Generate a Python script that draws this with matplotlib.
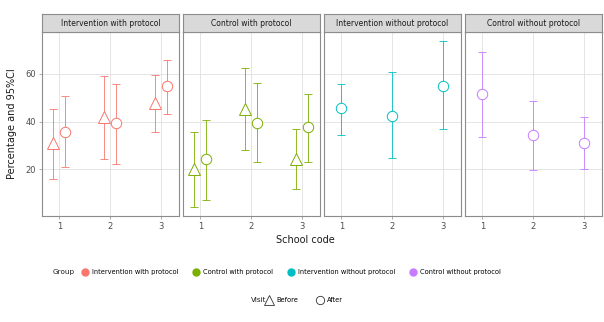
import matplotlib
matplotlib.use("Agg")
import matplotlib.pyplot as plt
from matplotlib.lines import Line2D
import numpy as np

groups = ["Intervention with protocol", "Control with protocol",
          "Intervention without protocol", "Control without protocol"]
colors = ["#F8766D", "#7CAE00", "#00BFC4", "#C77CFF"]
schools = [1, 2, 3]

# Before visit (only groups with protocol)
before_est = {groups[0]: [30.9, 41.8, 47.7], groups[1]: [20.0, 45.2, 24.2]}
before_lo = {groups[0]: [16.0, 24.5, 35.8], groups[1]: [4.3, 28.1, 11.6]}
before_hi = {groups[0]: [45.3, 59.2, 59.6], groups[1]: [35.5, 62.4, 36.9]}

# After visit
after_est = {groups[0]: [35.8, 39.3, 55.1], groups[1]: [24.2, 39.6, 37.9],
             groups[2]: [45.6, 42.5, 55.1], groups[3]: [51.5, 34.4, 31.2]}
after_lo = {groups[0]: [20.8, 22.1, 43.1], groups[1]: [7.1, 22.9, 23.2],
            groups[2]: [34.4, 24.6, 36.8], groups[3]: [33.7, 19.7, 20.0]}
after_hi = {groups[0]: [50.9, 55.8, 65.9], groups[1]: [40.7, 56.1, 51.5],
            groups[2]: [55.8, 60.7, 73.6], groups[3]: [69.1, 48.7, 42.1]}

W, H = 604, 322
fig = plt.figure(figsize=(W / 100, H / 100), dpi=100)
fig.patch.set_facecolor("white")

panel_left = [42, 183, 324, 465]
panel_w = 137
p_top, p_bot, s_top = 32, 216, 14

dodge = 0.12
cap = 0.08

def fx(px):
    return px / W

def fy(py):
    return 1 - py / H

axes = []
for i, g in enumerate(groups):
    ax = fig.add_axes([fx(panel_left[i]), fy(p_bot), panel_w / W, (p_bot - p_top) / H])
    axes.append(ax)
    col = colors[i]
    x = np.array(schools, dtype=float)
    if g in before_est:
        xb = x - dodge
        xa = x + dodge
        est, lo, hi = map(np.array, (before_est[g], before_lo[g], before_hi[g]))
        ax.errorbar(xb, est, yerr=[est - lo, hi - est], fmt="none", ecolor=col,
                    elinewidth=0.6, capsize=0, zorder=2)
        ax.hlines(np.concatenate([lo, hi]), np.concatenate([xb, xb]) - cap,
                  np.concatenate([xb, xb]) + cap, colors=col, lw=0.6, zorder=2)
        ax.plot(xb, est, linestyle="none", marker="^", markersize=8.5,
                markerfacecolor="white", markeredgecolor=col, markeredgewidth=0.7, zorder=3)
    else:
        xa = x
    est, lo, hi = map(np.array, (after_est[g], after_lo[g], after_hi[g]))
    ax.errorbar(xa, est, yerr=[est - lo, hi - est], fmt="none", ecolor=col,
                elinewidth=0.6, capsize=0, zorder=2)
    ax.hlines(np.concatenate([lo, hi]), np.concatenate([xa, xa]) - cap,
              np.concatenate([xa, xa]) + cap, colors=col, lw=0.6, zorder=2)
    ax.plot(xa, est, linestyle="none", marker="o", markersize=7.5,
            markerfacecolor="white", markeredgecolor=col, markeredgewidth=0.7, zorder=3)

    ax.set_xlim(0.66, 3.36)
    ax.set_ylim(0.5, 77.5)
    ax.set_xticks(schools)
    ax.set_xticklabels([str(s) for s in schools])
    ax.set_yticks([20, 40, 60])
    ax.grid(True, color="#E0E0E0", lw=0.6, zorder=0)
    ax.set_axisbelow(True)
    for sp in ax.spines.values():
        sp.set_color("#8C8C8C")
        sp.set_linewidth(0.8)
    ax.tick_params(axis="both", labelsize=6, colors="#8C8C8C", labelcolor="#4D4D4D",
                   length=2.5, width=0.5, pad=2)
    if i > 0:
        ax.tick_params(axis="y", left=False, labelleft=False)

    # strip
    sax = fig.add_axes([fx(panel_left[i]), fy(p_top), panel_w / W, (p_top - s_top) / H])
    sax.set_facecolor("#D9D9D9")
    sax.set_xticks([])
    sax.set_yticks([])
    for sp in sax.spines.values():
        sp.set_color("#8C8C8C")
        sp.set_linewidth(0.8)
    sax.text(0.5, 0.5, g, ha="center", va="center", fontsize=5.5, color="#1A1A1A",
             transform=sax.transAxes)

fig.text(fx(12), fy((p_top + p_bot) / 2), "Percentage and 95%CI", rotation=90,
         ha="center", va="center", fontsize=7, color="#1A1A1A")
fig.text(fx(305), fy(240), "School code", ha="center", va="center", fontsize=7,
         color="#1A1A1A")

# Group legend
handles = [Line2D([], [], linestyle="none", marker="o", markersize=5,
                  markerfacecolor=c, markeredgecolor=c) for c in colors]
leg1 = fig.legend(handles, groups, loc="center left", bbox_to_anchor=(fx(80), fy(272)),
                  ncol=4, frameon=False, fontsize=4.8, handletextpad=0.3,
                  columnspacing=1.9, handlelength=1.5, borderaxespad=0, borderpad=0)
fig.text(fx(53), fy(272), "Group", ha="left", va="center", fontsize=5.2,
         color="#1A1A1A")

# Visit legend
vh = [Line2D([], [], linestyle="none", marker="^", markersize=7, markerfacecolor="white",
             markeredgecolor="#333333", markeredgewidth=0.6),
      Line2D([], [], linestyle="none", marker="o", markersize=6, markerfacecolor="white",
             markeredgecolor="#333333", markeredgewidth=0.6)]
fig.legend(vh, ["Before", "After"], loc="center left", bbox_to_anchor=(fx(264), fy(300)),
           ncol=2, frameon=False, fontsize=4.8, handletextpad=0.3, columnspacing=2.6,
           handlelength=1.5, borderaxespad=0, borderpad=0)
fig.text(fx(251), fy(300), "Visit", ha="left", va="center", fontsize=5.2,
         color="#1A1A1A")

fig.savefig("out.png", dpi=100)
